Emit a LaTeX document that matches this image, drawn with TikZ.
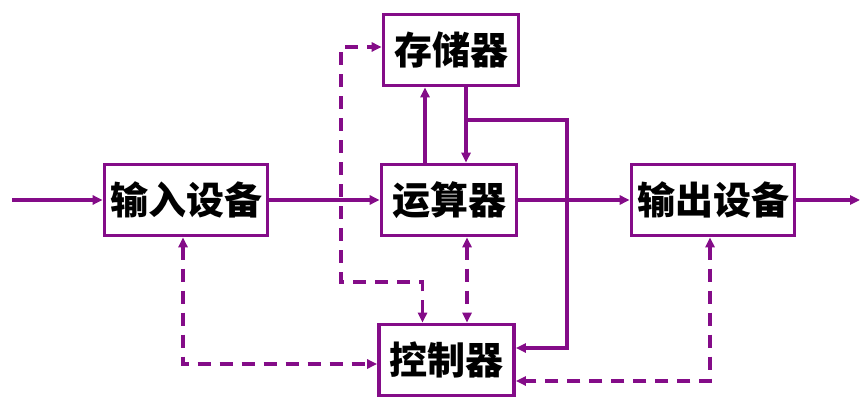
\documentclass[tikz,border=0pt]{standalone}
\usepackage{fontspec}
\newfontfamily\cjk{Noto Sans CJK SC}
\usepackage{tikz}
\usetikzlibrary{arrows.meta, positioning, calc}
\definecolor{wire}{RGB}{132,12,136}

\begin{document}
\begin{tikzpicture}[
        font=\cjk\bfseries\fontsize{38}{42}\selectfont,
        >={Triangle[length=10pt,width=9pt]},
        unit/.style ={draw=wire, line width=3.6pt, fill=white, inner sep=0pt,
                minimum width=163pt, minimum height=71pt},
        small/.style={unit, minimum width=135pt},
        flow/.style ={->, line width=3.6pt, draw=wire},
        ctrl/.style ={<->, line width=3.6pt, draw=wire, dash pattern=on 13pt off 9pt},
        x=1pt, y=-1pt
    ]
    \useasboundingbox (0,0) rectangle (866,403);

    %% --- units ---
    \node[unit]  (inp) at (186,200)   {输入设备};
    \node[small] (alu) at (449,200)   {运算器};
    \node[small] (mem) at (451,50)    {存储器};
    \node[unit]  (outp) at (713,200)  {输出设备};
    \node[small] (ctl) at (446.5,360) {控制器};

    % free ends and bends of the wires
    \coordinate (src)  at (12,200);
    \coordinate (sink) at (860,200);
    \coordinate (tap)  at (466,120);
    \coordinate (bus)  at (567,120);
    \coordinate (loop) at (341,282);

    %% --- data flow (solid) ---
    \draw[flow] (src) -- (inp);
    \draw[flow] (inp) -- (alu);
    \draw[flow] (alu) -- (outp);
    \draw[flow] (outp) -- (sink);
    \draw[flow] ([xshift=-24pt]alu.north) -- ([xshift=-24pt]alu.north |- mem.south);
    \draw[flow] ([xshift=15pt]mem.south) -- ([xshift=15pt]mem.south |- alu.north);
    \draw[flow] (tap) -- (bus) |- ([yshift=12pt]ctl.east);

    %% --- control signals (dashed, both ways) ---
    \draw[ctrl] ([xshift=-3pt]inp.south) |- ([yshift=-4pt]ctl.west);
    \draw[ctrl] ([xshift=-3pt]outp.south) |- ([yshift=-21pt]ctl.east);
    \draw[ctrl] ([xshift=18pt]alu.south) -- ([xshift=18pt]alu.south |- ctl.north);
    \draw[ctrl] ([xshift=-24pt]ctl.north) |- (loop) |- ([yshift=3pt]mem.west);

\end{tikzpicture}
\end{document}
